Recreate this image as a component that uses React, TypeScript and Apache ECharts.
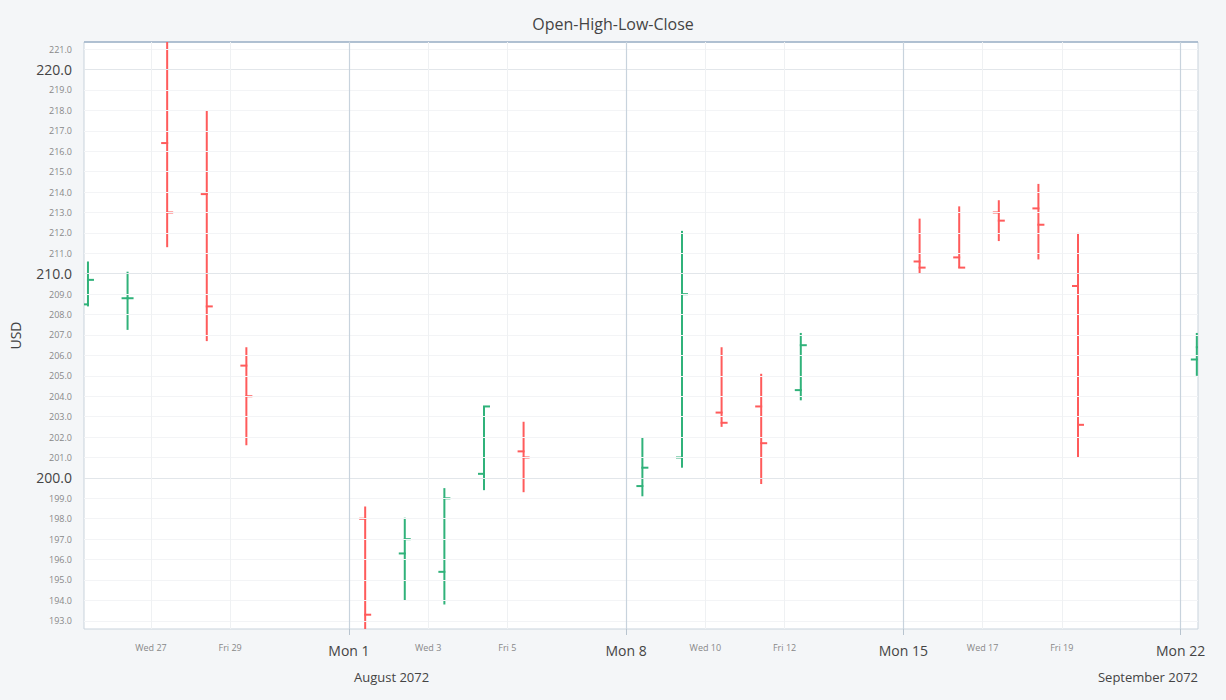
import { useEffect, useRef } from "react";
import * as echarts from "echarts";

// trading days, day offset from Mon Aug 1 2072
const days = [-7, -6, -5, -4, -3, 0, 1, 2, 3, 4, 7, 8, 9, 10, 11, 14, 15, 16, 17, 18, 21];
const opens = [208.5, 208.8, 216.4, 213.9, 205.5, 198.0, 196.3, 195.4, 200.2, 201.3, 199.6, 201.0, 203.2, 203.5, 204.3, 210.6, 210.8, 213.0, 213.2, 209.4, 205.8];
const highs = [210.6, 210.1, 221.4, 218.0, 206.4, 198.6, 198.05, 199.5, 203.5, 202.75, 202.0, 212.1, 206.4, 205.1, 207.1, 212.7, 213.3, 213.6, 214.4, 212.0, 207.1];
const lows = [208.4, 207.25, 211.3, 206.7, 201.6, 192.4, 194.0, 193.8, 199.4, 199.3, 199.1, 200.5, 202.5, 199.7, 203.8, 210.0, 210.3, 211.6, 210.7, 201.0, 205.0];
const closes = [209.7, 208.8, 213.0, 208.4, 204.0, 193.3, 197.0, 199.0, 203.5, 201.0, 200.5, 209.0, 202.7, 201.7, 206.5, 210.3, 210.3, 212.6, 212.4, 202.6, 206.4];

const xTickDays = [-5, -3, 0, 2, 4, 7, 9, 11, 14, 16, 18, 21];
const xTickLabels: Record<number, string> = {
  "-5": "Wed 27", "-3": "Fri 29", "0": "Mon 1", "2": "Wed 3", "4": "Fri 5", "7": "Mon 8",
  "9": "Wed 10", "11": "Fri 12", "14": "Mon 15", "16": "Wed 17", "18": "Fri 19", "21": "Mon 22",
};
const yTicks = Array.from({ length: 29 }, (_, i) => 193 + i);

const GREEN = "#30b27a";
const RED = "#ff5b5b";
const HOUR_OFFSET = 0.41;

export default function App() {
  const ref = useRef<HTMLDivElement>(null);

  useEffect(() => {
    document.body.style.margin = "0";
    if (!ref.current) return;
    const chart = echarts.init(ref.current, undefined, { renderer: "svg" });

    const data = days.map((d, i) => [d + HOUR_OFFSET, opens[i], highs[i], lows[i], closes[i]]);

    chart.setOption({
      animation: false,
      backgroundColor: "#f4f6f8",
      title: {
        text: "Open-High-Low-Close",
        left: "center",
        top: 11,
        textStyle: { color: "#444", fontSize: 16, fontWeight: "normal", fontFamily: "Open Sans" },
      },
      grid: { left: 84, right: 28, top: 42, bottom: 71, show: true, backgroundColor: "#fff", borderColor: "#c9d3dc", borderWidth: 1 },
      xAxis: {
        type: "value",
        min: -6.69,
        max: 21.44,
        axisLine: { show: false },
        splitLine: { show: false },
        axisTick: { show: true, customValues: [0, 7, 14, 21], length: 6, lineStyle: { color: "#b8c4cf" } },
        axisLabel: {
          customValues: xTickDays,
          margin: 14,
          fontFamily: "Open Sans",
          formatter: (v: number) => {
            const s = xTickLabels[Math.round(v)] ?? "";
            return Math.round(v) % 7 === 0 ? `{maj|${s}}` : `{min|${s}}`;
          },
          rich: {
            maj: { fontSize: 14, color: "#444", fontFamily: "Open Sans" },
            min: { fontSize: 9, color: "#888", fontFamily: "Open Sans" },
          },
        },
      },
      yAxis: {
        type: "value",
        min: 192.6,
        max: 221.35,
        name: "USD",
        nameLocation: "middle",
        nameGap: 62,
        nameTextStyle: { fontSize: 14, color: "#444", fontFamily: "Open Sans" },
        axisLine: { show: true, lineStyle: { color: "#c9d3dc" } },
        splitLine: { show: false },
        axisTick: { show: true, customValues: [200, 210, 220], length: 8, lineStyle: { color: "#c9d3dc" } },
        axisLabel: {
          customValues: yTicks,
          margin: 12,
          formatter: (v: number) => {
            const s = v.toFixed(1);
            return Math.round(v) % 10 === 0 ? `{maj|${s}}` : `{min|${s}}`;
          },
          rich: {
            maj: { fontSize: 14, color: "#444", fontFamily: "Open Sans" },
            min: { fontSize: 9, color: "#888", fontFamily: "Open Sans" },
          },
        },
      },
      graphic: [
        { type: "text", left: 354, top: 670, style: { text: "August 2072", fontSize: 13, fill: "#444", fontFamily: "Open Sans" } },
        { type: "text", right: 28, top: 670, style: { text: "September 2072", fontSize: 13, fill: "#444", fontFamily: "Open Sans" } },
        { type: "line", shape: { x1: 84, y1: 42, x2: 1198, y2: 42 }, style: { stroke: "#9fb3c8", lineWidth: 1.5 } },
      ],
      series: [
        {
          type: "line",
          data: [],
          silent: true,
          markLine: {
            silent: true,
            symbol: "none",
            label: { show: false },
            data: [
              ...yTicks.map((v) => ({ yAxis: v, lineStyle: { color: v % 10 === 0 ? "#e2e6ea" : "#f3f4f6", width: 1, type: "solid" } })),
              ...xTickDays.map((d) => ({
                xAxis: d,
                lineStyle: {
                  color: d % 7 === 0 ? "#c8d3dd" : "#eff1f3",
                  width: d % 7 === 0 ? 1.2 : 1,
                  type: "solid",
                },
              })),
            ],
          },
        },
        {
          type: "custom",
          clip: true,
          data,
          renderItem: (_params: any, api: any) => {
            const x = api.value(0);
            const o = api.value(1), h = api.value(2), l = api.value(3), c = api.value(4);
            const pH = api.coord([x, h]);
            const pL = api.coord([x, l]);
            const pO = api.coord([x, o]);
            const pC = api.coord([x, c]);
            const color = c >= o ? GREEN : RED;
            const style = { stroke: color, lineWidth: 2 };
            const t = 6;
            return {
              type: "group",
              children: [
                { type: "line", shape: { x1: pO[0] - t, y1: pO[1], x2: pO[0] + 1, y2: pO[1] }, style },
                { type: "line", shape: { x1: pC[0] - 1, y1: pC[1], x2: pC[0] + t, y2: pC[1] }, style },
                { type: "line", shape: { x1: pH[0], y1: pH[1], x2: pL[0], y2: pL[1] }, style },
              ],
            };
          },
        },
      ],
    });

    return () => chart.dispose();
  }, []);

  return <div ref={ref} style={{ width: 1226, height: 700 }} />;
}
